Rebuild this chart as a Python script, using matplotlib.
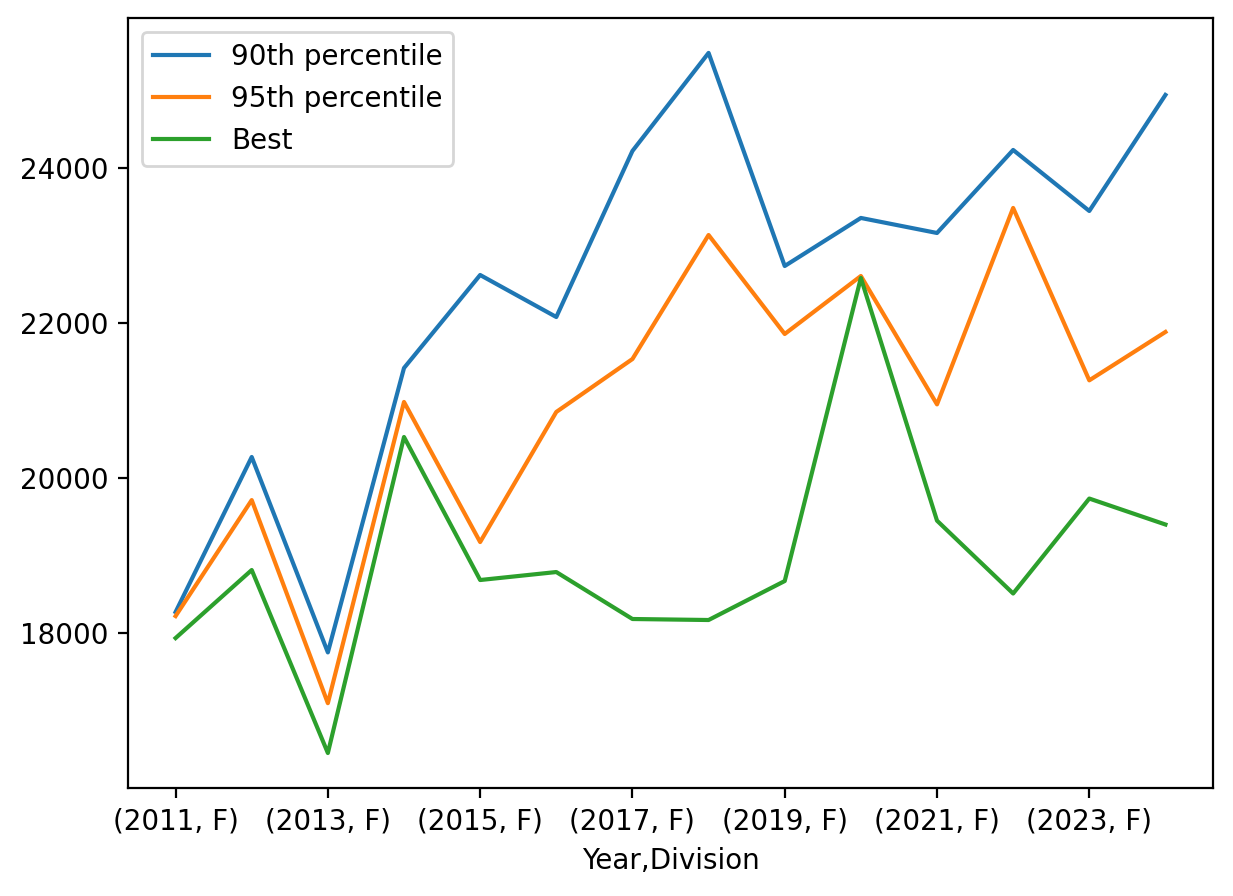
import matplotlib
matplotlib.use("Agg")
import matplotlib.pyplot as plt

years = [2011, 2012, 2013, 2014, 2015, 2016, 2017, 2018, 2019, 2020, 2021, 2022, 2023, 2024]
division = "F"

p90 = [18271, 20271, 17750, 21419, 22619, 22077, 24219, 25484, 22735, 23355, 23161, 24232, 23445, 24942]
p95 = [18219, 19715, 17095, 20981, 19174, 20852, 21535, 23135, 21858, 22606, 20950, 23484, 21260, 21884]
best = [17935, 18813, 16452, 20529, 18684, 18787, 18181, 18168, 18671, 22581, 19450, 18510, 19735, 19400]

fig, ax = plt.subplots(figsize=(6.165, 4.48), dpi=200)
fig.subplots_adjust(left=0.1038, right=0.9838, top=0.98, bottom=0.1205)

x = list(range(len(years)))
ax.plot(x, p90, label="90th percentile")
ax.plot(x, p95, label="95th percentile")
ax.plot(x, best, label="Best")

ax.set_xticks(x[::2])
ax.set_xticklabels([f"({y}, {division})" for y in years[::2]])
ax.set_xlim(-0.625, 13.625)
ax.set_yticks([18000, 20000, 22000, 24000])
ax.set_xlabel("Year,Division")
ax.legend(loc="upper left")

fig.savefig("out.png", dpi=200)
